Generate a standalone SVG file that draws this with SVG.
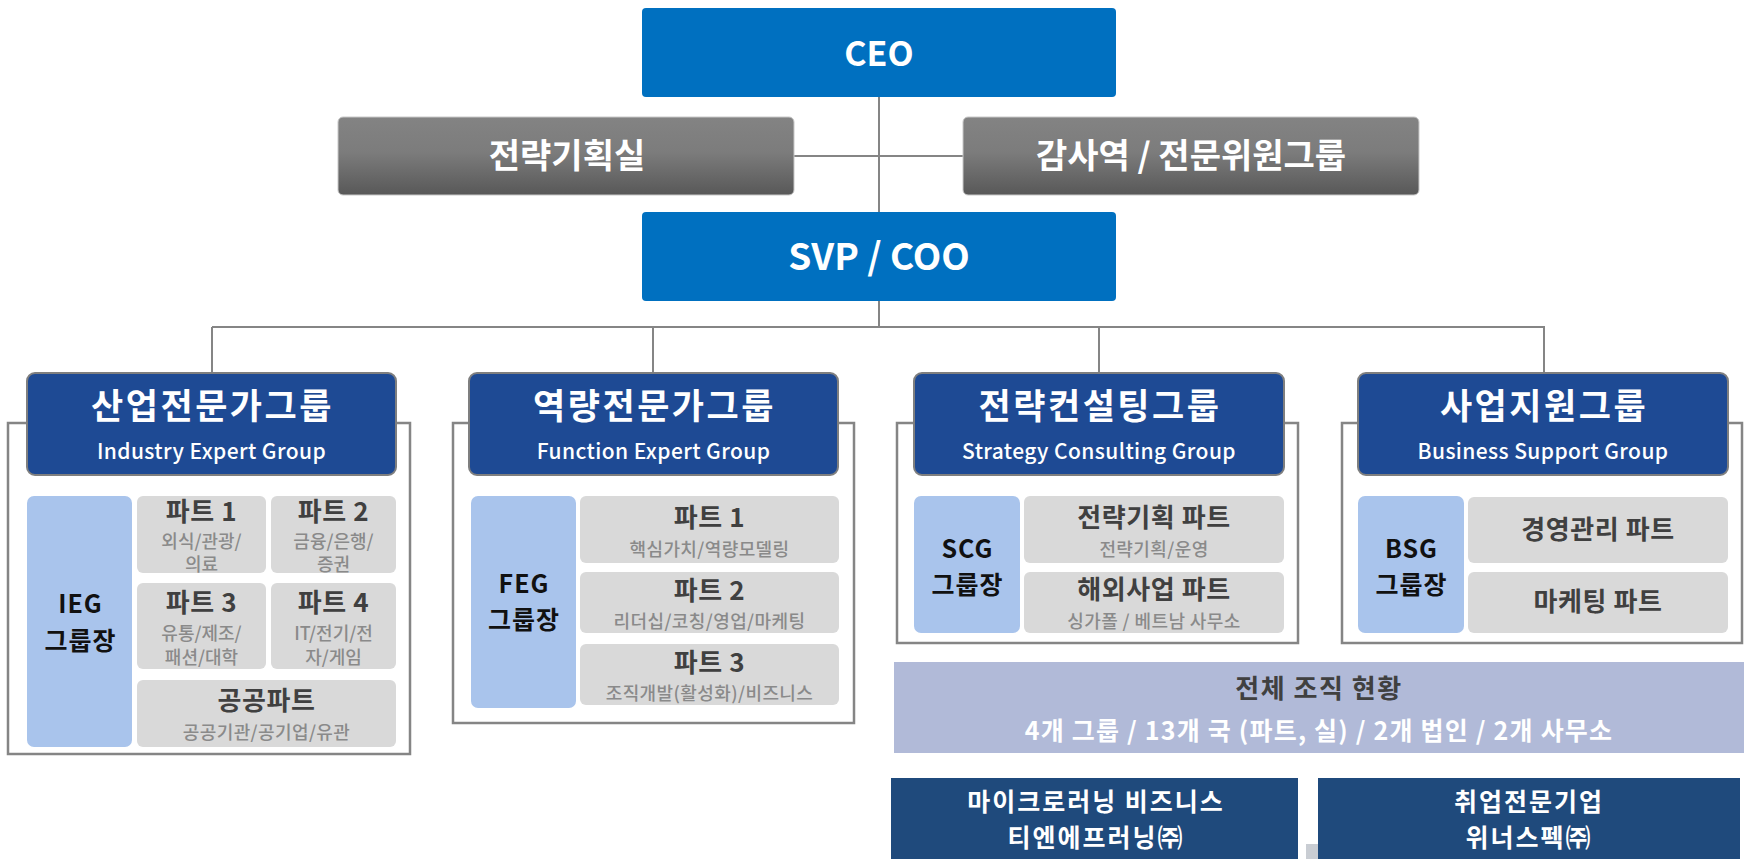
<svg xmlns="http://www.w3.org/2000/svg" width="1744" height="859" viewBox="0 0 1744 859">
<defs>
<linearGradient id="gr" x1="0" y1="0" x2="0" y2="1">
<stop offset="0" stop-color="#838383"/>
<stop offset="0.45" stop-color="#7c7c7c"/>
<stop offset="1" stop-color="#585858"/>
</linearGradient>
<style>
text{font-family:"Noto Sans CJK KR","Noto Sans",sans-serif;text-anchor:middle}
.line{stroke:#858585;stroke-width:2;fill:none}
.top{fill:#0070c0}
.gray{fill:url(#gr);stroke:#c8c8c8;stroke-width:1}
.wt{fill:#fff;font-weight:700}
.outer{fill:none;stroke:#858585;stroke-width:2.5}
.hdr{fill:#1e4a94;stroke:#7f7f7f;stroke-width:2}
.lead{fill:#a9c4ec}
.part{fill:#d9d9d9}
.pt{fill:#404040;font-weight:700;font-size:26px;letter-spacing:0.6px}
.ps{fill:#8a8a8a;font-weight:500;font-size:18px;letter-spacing:0.4px}
.ps2{fill:#8a8a8a;font-weight:500;font-size:18px}
.lt{fill:#111;font-weight:700;font-size:25px;letter-spacing:1px}
.ht{fill:#fff;font-weight:700;font-size:35px;letter-spacing:2.5px}
.hs{fill:#fff;font-weight:500;font-size:21px;letter-spacing:0.4px}
.sub{fill:#1f4a7c}
.bt{fill:#fff;font-weight:700;font-size:25px;letter-spacing:2px}
</style>
</defs>
<g id="connectors">
<line class="line" x1="879" y1="97" x2="879" y2="327"/>
<line class="line" x1="794" y1="156" x2="963" y2="156"/>
<line class="line" x1="212" y1="327" x2="1545" y2="327"/>
<line class="line" x1="212" y1="327" x2="212" y2="373"/>
<line class="line" x1="653" y1="327" x2="653" y2="373"/>
<line class="line" x1="1099" y1="327" x2="1099" y2="373"/>
<line class="line" x1="1544" y1="327" x2="1544" y2="373"/>
</g>
<g id="ceo">
<rect class="top" x="642" y="8" width="474" height="89" rx="4"/>
<text class="wt" x="879" y="66" font-size="34">CEO</text>
</g>
<g id="strategy-office">
<rect class="gray" x="338" y="117" width="456" height="78" rx="5"/>
<text class="wt" x="567" y="168" font-size="34">전략기획실</text>
</g>
<g id="audit">
<rect class="gray" x="963" y="117" width="456" height="78" rx="5"/>
<text class="wt" x="1191" y="168" font-size="34">감사역 / 전문위원그룹</text>
</g>
<g id="svp">
<rect class="top" x="642" y="212" width="474" height="89" rx="4"/>
<text class="wt" x="879" y="270" font-size="37">SVP / COO</text>
</g>
<g id="ieg">
<rect class="outer" x="8" y="423" width="402" height="331"/>
<rect class="hdr" x="27" y="373" width="369" height="102" rx="8"/>
<text class="ht" x="212.5" y="419">산업전문가그룹</text>
<text class="hs" x="211.5" y="459">Industry Expert Group</text>
<rect class="lead" x="27" y="496" width="105" height="251" rx="7"/>
<text class="lt" x="80.5" y="613">IEG</text>
<text class="lt" x="80.5" y="650">그룹장</text>
<rect class="part" x="137" y="496" width="129" height="77" rx="6"/>
<text class="pt" x="201.5" y="521">파트 1</text>
<text class="ps2" x="201.5" y="548">외식/관광/</text>
<text class="ps2" x="201.5" y="571">의료</text>
<rect class="part" x="271" y="496" width="125" height="77" rx="6"/>
<text class="pt" x="333.5" y="521">파트 2</text>
<text class="ps2" x="333.5" y="548">금융/은행/</text>
<text class="ps2" x="333.5" y="571">증권</text>
<rect class="part" x="137" y="583" width="129" height="86" rx="6"/>
<text class="pt" x="201.5" y="612">파트 3</text>
<text class="ps2" x="201.5" y="640">유통/제조/</text>
<text class="ps2" x="201.5" y="664">패션/대학</text>
<rect class="part" x="271" y="583" width="125" height="86" rx="6"/>
<text class="pt" x="333.5" y="612">파트 4</text>
<text class="ps2" x="333.5" y="640">IT/전기/전</text>
<text class="ps2" x="333.5" y="664">자/게임</text>
<rect class="part" x="137" y="680" width="259" height="67" rx="6"/>
<text class="pt" x="266.5" y="710">공공파트</text>
<text class="ps" x="266.5" y="739">공공기관/공기업/유관</text>
</g>
<g id="feg">
<rect class="outer" x="453" y="423" width="401" height="300"/>
<rect class="hdr" x="469" y="373" width="369" height="102" rx="8"/>
<text class="ht" x="654.5" y="419">역량전문가그룹</text>
<text class="hs" x="653.5" y="459">Function Expert Group</text>
<rect class="lead" x="471" y="496" width="105" height="212" rx="7"/>
<text class="lt" x="524" y="593">FEG</text>
<text class="lt" x="524" y="629">그룹장</text>
<rect class="part" x="580" y="496" width="259" height="67" rx="6"/>
<text class="pt" x="709.5" y="527">파트 1</text>
<text class="ps" x="709.5" y="556">핵심가치/역량모델링</text>
<rect class="part" x="580" y="572" width="259" height="61" rx="6"/>
<text class="pt" x="709.5" y="600">파트 2</text>
<text class="ps" x="709.5" y="628">리더십/코칭/영업/마케팅</text>
<rect class="part" x="580" y="644" width="259" height="61" rx="6"/>
<text class="pt" x="709.5" y="672">파트 3</text>
<text class="ps" x="709.5" y="700">조직개발(활성화)/비즈니스</text>
</g>
<g id="scg">
<rect class="outer" x="897" y="423" width="401" height="220"/>
<rect class="hdr" x="914" y="373" width="370" height="102" rx="8"/>
<text class="ht" x="1100" y="419">전략컨설팅그룹</text>
<text class="hs" x="1099" y="459">Strategy Consulting Group</text>
<rect class="lead" x="914" y="496" width="106" height="137" rx="7"/>
<text class="lt" x="967.5" y="558">SCG</text>
<text class="lt" x="967.5" y="594">그룹장</text>
<rect class="part" x="1024" y="496" width="260" height="67" rx="6"/>
<text class="pt" x="1154" y="527">전략기획 파트</text>
<text class="ps" x="1154" y="556">전략기획/운영</text>
<rect class="part" x="1024" y="572" width="260" height="61" rx="6"/>
<text class="pt" x="1154" y="599">해외사업 파트</text>
<text class="ps" x="1154" y="628">싱가폴 / 베트남 사무소</text>
</g>
<g id="bsg">
<rect class="outer" x="1342" y="423" width="400" height="220"/>
<rect class="hdr" x="1358" y="373" width="370" height="102" rx="8"/>
<text class="ht" x="1544" y="419">사업지원그룹</text>
<text class="hs" x="1543" y="459">Business Support Group</text>
<rect class="lead" x="1358" y="496" width="106" height="137" rx="7"/>
<text class="lt" x="1411.5" y="558">BSG</text>
<text class="lt" x="1411.5" y="594">그룹장</text>
<rect class="part" x="1468" y="497" width="260" height="66" rx="6"/>
<text class="pt" x="1598" y="539">경영관리 파트</text>
<rect class="part" x="1468" y="572" width="260" height="61" rx="6"/>
<text class="pt" x="1598" y="611">마케팅 파트</text>
</g>
<g id="summary">
<rect x="894" y="662" width="850" height="91" fill="#b1bad8"/>
<text x="1319" y="698" font-size="26" font-weight="700" fill="#404040" letter-spacing="1.5">전체 조직 현황</text>
<text x="1319" y="740" font-size="25" font-weight="700" fill="#fff" letter-spacing="1.2">4개 그룹 / 13개 국 (파트, 실) / 2개 법인 / 2개 사무소</text>
</g>
<rect x="1306" y="844" width="14" height="15" fill="#c9cdd3"/>
<g id="tnf">
<rect class="sub" x="891" y="778" width="407" height="81"/>
<text class="bt" x="1096" y="811">마이크로러닝 비즈니스</text>
<text class="bt" x="1096" y="847">티엔에프러닝㈜</text>
</g>
<g id="winnerspec">
<rect class="sub" x="1318" y="778" width="422" height="81"/>
<text class="bt" x="1529" y="811">취업전문기업</text>
<text class="bt" x="1529" y="847">위너스펙㈜</text>
</g>
</svg>
